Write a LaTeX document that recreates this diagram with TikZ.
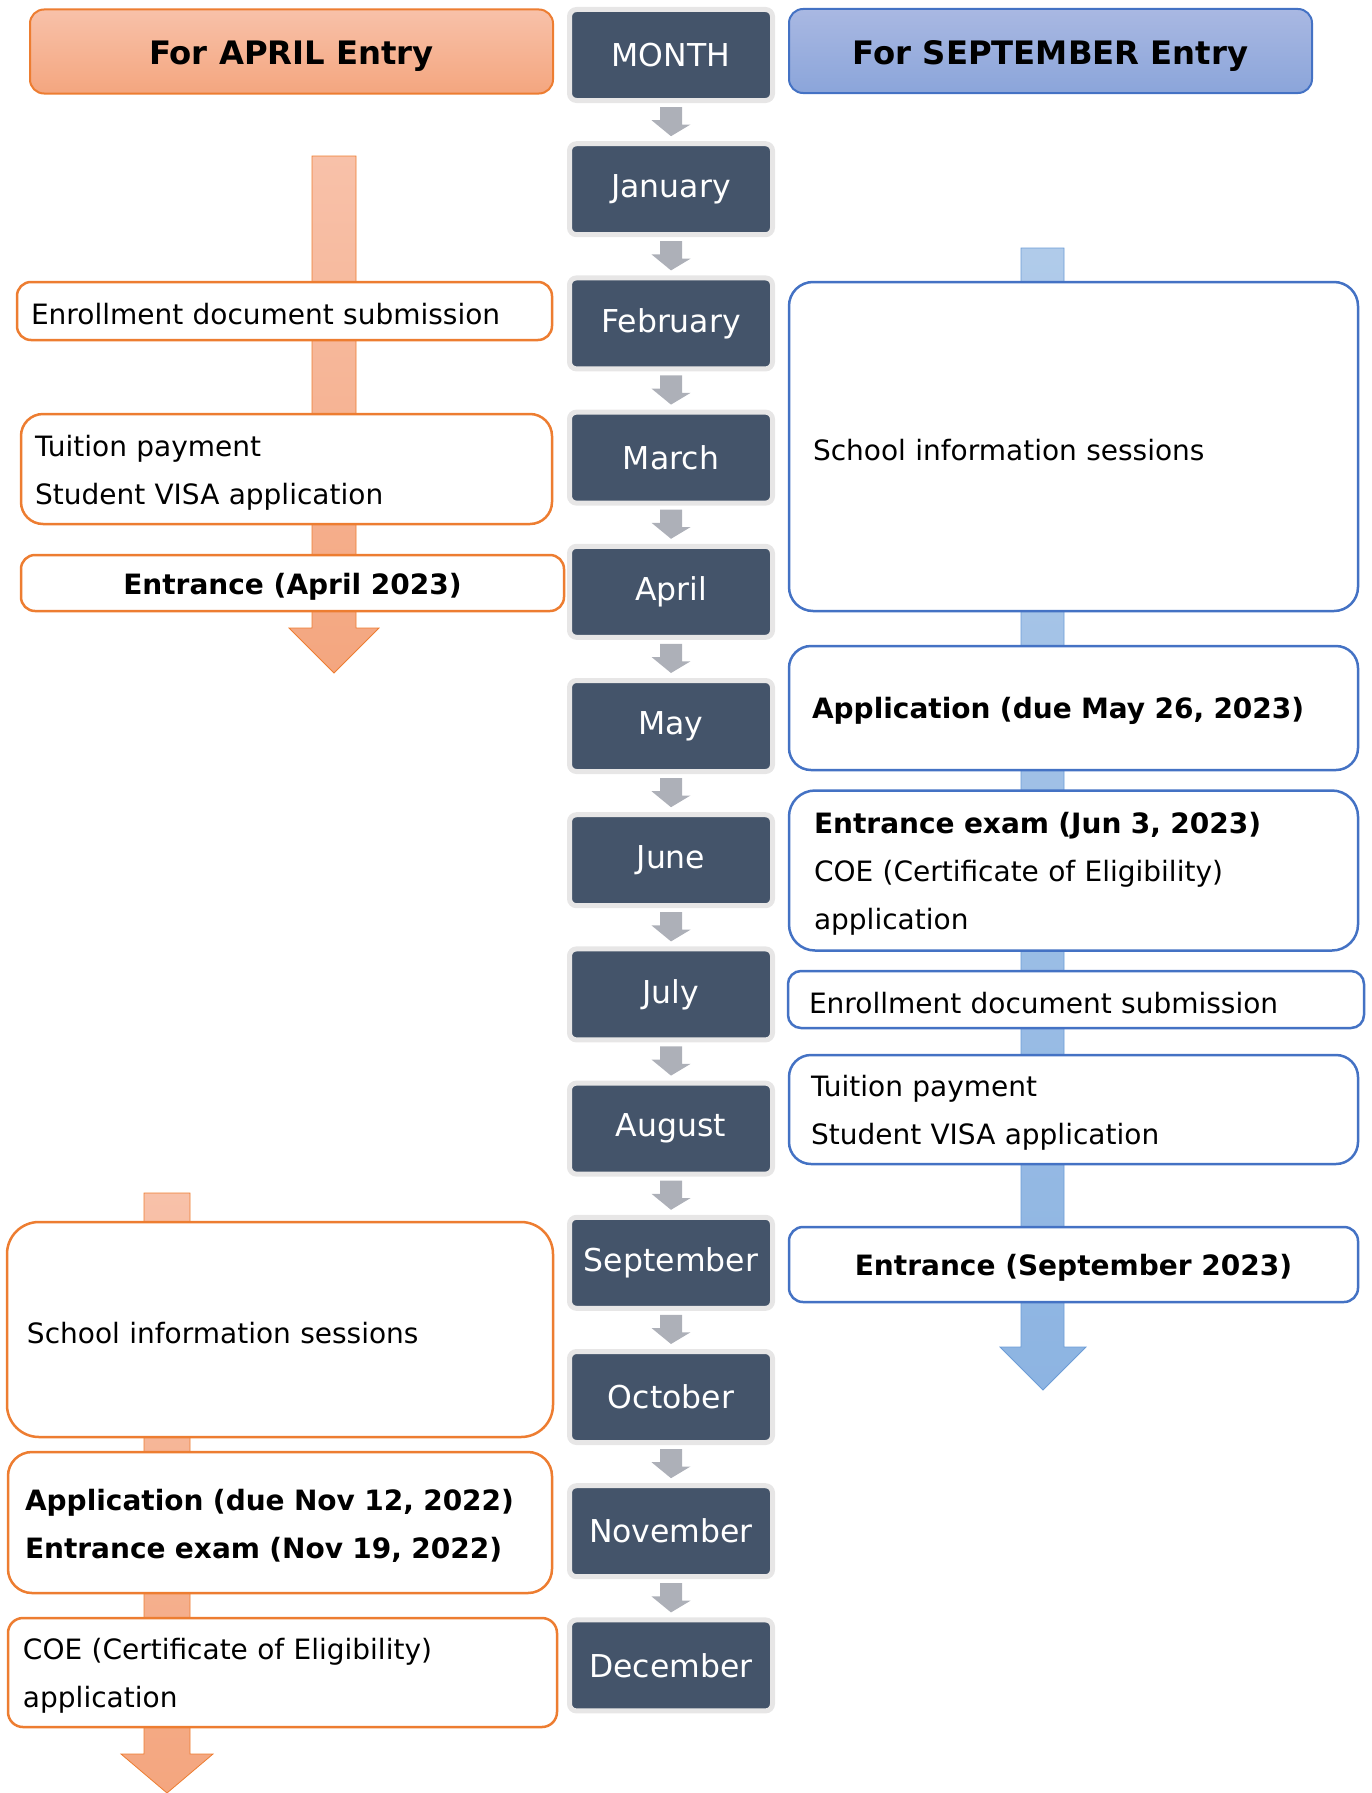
\documentclass[tikz,border=0pt]{standalone}
\usepackage{fontspec}
\setmainfont{DejaVu Sans}

\definecolor{monthbg}{HTML}{44546A}
\definecolor{monthrim}{HTML}{E7E6E6}
\definecolor{arrgray}{HTML}{ADB0B8}
\definecolor{aprline}{HTML}{ED7D31}
\definecolor{aprtop}{HTML}{F8C1A9}
\definecolor{aprbot}{HTML}{F4A67F}
\definecolor{sepline}{HTML}{4472C4}
\definecolor{septop}{HTML}{A9B8E2}
\definecolor{sepbot}{HTML}{8BA5DA}
\definecolor{bartop}{HTML}{B0CBEA}
\definecolor{barbot}{HTML}{8DB4E2}
\definecolor{barline}{HTML}{6C9CD6}

\newcommand{\boxfont}{\fontsize{28}{48}\selectfont}
\newcommand{\monthfont}{\fontsize{31.5}{36}\selectfont}
\newcommand{\headfont}{\fontsize{32.3}{38}\selectfont\bfseries}

\begin{document}
\begin{tikzpicture}[x=1pt, y=-1pt,
    month/.style={fill=monthbg, draw=monthrim, line width=5pt, rounded corners=7pt,
        minimum width=203pt, minimum height=91pt, inner sep=0pt, text=white, font=\monthfont},
    head/.style={line width=2pt, rounded corners=14pt, minimum width=523pt,
        minimum height=84pt, inner sep=0pt, font=\headfont,
        execute at begin node={\rule{0pt}{33pt}}},
    abox/.style={draw=aprline, fill=white, line width=2.5pt, align=left,
        inner ysep=0pt, font=\boxfont, execute at begin node={\rule{0pt}{28pt}}},
    sbox/.style={abox, draw=sepline}]
    \useasboundingbox (0,0) rectangle (1371,1793);

    % timeline bars (behind the boxes)
    \draw[top color=aprtop, bottom color=aprbot, draw=aprline, line width=0.8pt]
        (312,156) -- (356,156) -- (356,628) -- (379,628) -- (334,673)
        -- (289,628) -- (312,628) -- cycle;
    \draw[top color=aprtop, bottom color=aprbot, draw=aprline, line width=0.8pt]
        (144,1193) -- (190,1193) -- (190,1754) -- (213,1754) -- (167,1793)
        -- (121,1754) -- (144,1754) -- cycle;
    \draw[top color=bartop, bottom color=barbot, draw=barline, line width=0.8pt]
        (1021,248) -- (1064,248) -- (1064,1347) -- (1086,1347) -- (1043,1390)
        -- (1000,1347) -- (1021,1347) -- cycle;

    % headers
    \node[head, draw=aprline, top color=aprtop, bottom color=aprbot] (aprhead) at (291.5,51.5) {For APRIL Entry};
    \node[head, draw=sepline, top color=septop, bottom color=sepbot] (sephead) at (1050.5,51) {For SEPTEMBER Entry};

    % months
    \foreach \m [count=\i from 0] in {MONTH,January,February,March,April,May,June,July,August,September,October,November,December}
        \node[month] (m\i) at (671,{55+134.2*\i}) {\m};
    \foreach \i [count=\j] in {0,...,11} {
        \path (m\i.south) ++(0,4) coordinate (t) (m\j.north) ++(0,-5) coordinate (b);
        \fill[arrgray] (t) ++(-11,0) -- ++(22,0) -- ++(0,17.5) -- ++(8.5,0) -- (b)
            -- ++(-19.5,-16) -- ++(8.5,0) -- cycle;
    }

    % april entry
    \node[abox, rounded corners=14pt, minimum height=58pt, text width=507pt, inner xsep=14pt] (aenrol) at (284.5,311) {Enrollment document submission};
    \node[abox, rounded corners=22pt, minimum height=110pt, text width=503pt, inner xsep=14pt] (apay) at (286.5,469) {Tuition payment\\Student VISA application};
    \node[abox, rounded corners=14pt, minimum height=56pt, minimum width=543pt, align=center] (aentr) at (292.5,583) {\bfseries Entrance (April 2023)};
    \node[abox, rounded corners=32pt, minimum height=215pt, text width=506pt, inner xsep=20pt] (aschool) at (280,1329.5) {School information sessions};
    \node[abox, rounded corners=24pt, minimum height=141pt, text width=510pt, inner xsep=17pt] (aapp) at (280,1522.5) {\bfseries Application (due Nov 12, 2022)\\Entrance exam (Nov 19, 2022)};
    \node[abox, rounded corners=15pt, minimum height=109pt, text width=519pt, inner xsep=15pt] (acoe) at (282.5,1672.5) {COE (Certificate of Eligibility)\\application};

    % september entry
    \node[sbox, rounded corners=24pt, minimum height=329pt, text width=521pt, inner xsep=24pt] (sschool) at (1073.5,446.5) {School information sessions};
    \node[sbox, rounded corners=22pt, minimum height=124pt, text width=523pt, inner xsep=23pt] (sapp) at (1073.5,708) {\bfseries Application (due May 26, 2023)};
    \node[sbox, rounded corners=26pt, minimum height=160pt, text width=519pt, inner xsep=25pt] (sexam) at (1073.5,870.5) {\textbf{Entrance exam (Jun 3, 2023)}\\COE (Certificate of Eligibility)\\application};
    \node[sbox, rounded corners=13pt, minimum height=57pt, text width=534pt, inner xsep=21pt] (senrol) at (1076,999.5) {Enrollment document submission};
    \node[sbox, rounded corners=22pt, minimum height=109pt, text width=525pt, inner xsep=22pt] (spay) at (1073.5,1109.5) {Tuition payment\\Student VISA application};
    \node[sbox, rounded corners=14pt, minimum height=75pt, minimum width=569pt, align=center] (sentr) at (1073.5,1264.5) {\bfseries Entrance (September 2023)};
\end{tikzpicture}
\end{document}
